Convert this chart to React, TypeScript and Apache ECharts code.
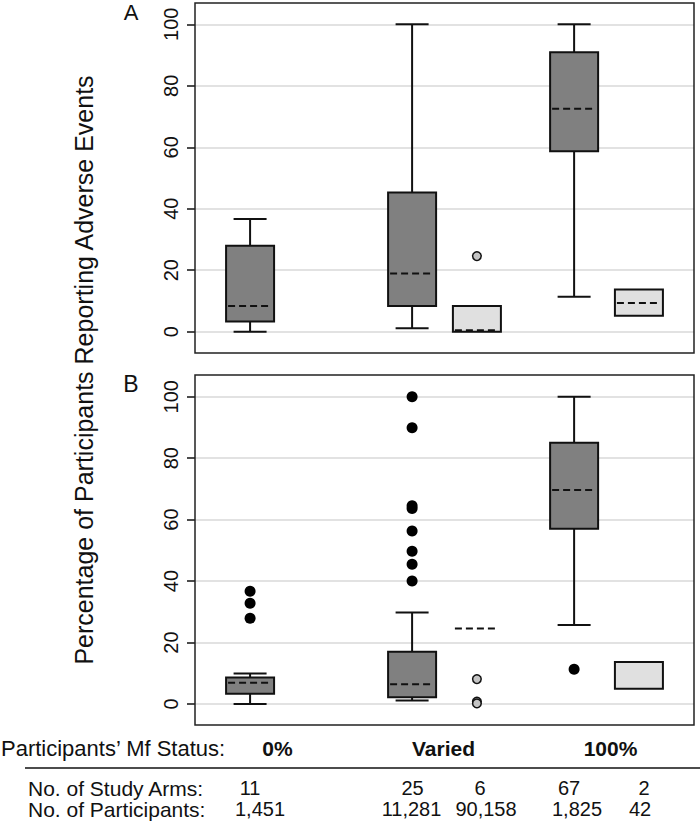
import React, { useEffect, useRef } from "react";
import * as echarts from "echarts";

// ---- data ----
const GROUPS = ["0%", "Varied", "100%"];
// [groupIndex, min, q1, median, q3, max]
const A_DARK = [
  [0, 0, 3.3, 8.4, 28.0, 36.7],
  [1, 1.1, 8.4, 18.9, 45.3, 100],
  [2, 11.4, 58.7, 72.5, 90.9, 100],
];
const A_LIGHT = [
  [1, 0, 0, 0.5, 8.4, 8.4],
  [2, 5.2, 5.2, 9.3, 13.7, 13.7],
];
const A_DARK_OUT: number[][] = [];
const A_LIGHT_OUT = [[1, 24.6]];
const B_DARK = [
  [0, 0, 3.3, 6.9, 8.6, 9.9],
  [1, 1.1, 2.2, 6.4, 17.0, 29.8],
  [2, 25.7, 57.0, 69.6, 85.0, 100],
];
const B_LIGHT = [
  [1, 24.6, 24.6, 24.6, 24.6, 24.6],
  [2, 5.0, 5.0, null, 13.7, 13.7],
];
const B_DARK_OUT = [
  [0, 36.7], [0, 32.8], [0, 27.9],
  [1, 100], [1, 89.9], [1, 64.5], [1, 63.6], [1, 56.3], [1, 49.7], [1, 45.5], [1, 40.0],
  [2, 11.3],
];
const B_LIGHT_OUT = [[1, 8.1], [1, 0.8], [1, 0.2]];
// table columns: 0% dark, Varied dark, Varied light, 100% dark, 100% light
const STUDY_ARMS = [11, 25, 6, 67, 2];
const PARTICIPANTS = [1451, 11281, 90158, 1825, 42];
const Y_MIN = 0;
const Y_MAX = 100;
const Y_STEP = 20;
const Y_TITLE = "Percentage of Participants Reporting Adverse Events";

// ---- layout / style ----
const FONT = "'Liberation Sans', Arial, Helvetica, sans-serif";
const DARK_FILL = "#808080";
const LIGHT_FILL = "#e0e0e0";
const OFF = 0.2;
const BOX_W = 48;
const CAP_W = 33;
const HEADER_X = [277.5, 443.5, 610.5];
const ROW1_X = [250, 412.5, 480, 569, 644];
const ROW2_X = [260, 411.5, 486, 577, 640];

const boxRender = (offset: number, fill: string) => (params: any, api: any) => {
  const g = api.value(0);
  const mn = api.value(1), q1 = api.value(2), med = api.value(3), q3 = api.value(4), mx = api.value(5);
  const x = g + offset;
  const cx = api.coord([x, 0])[0];
  const yOf = (v: number) => api.coord([x, v])[1];
  const ls = { stroke: "#111", lineWidth: 2 };
  const children: any[] = [];
  if (mx > q3) {
    children.push({ type: "line", shape: { x1: cx, y1: yOf(q3), x2: cx, y2: yOf(mx) }, style: ls });
    children.push({ type: "line", shape: { x1: cx - CAP_W / 2, y1: yOf(mx), x2: cx + CAP_W / 2, y2: yOf(mx) }, style: ls });
  }
  if (mn < q1) {
    children.push({ type: "line", shape: { x1: cx, y1: yOf(q1), x2: cx, y2: yOf(mn) }, style: ls });
    children.push({ type: "line", shape: { x1: cx - CAP_W / 2, y1: yOf(mn), x2: cx + CAP_W / 2, y2: yOf(mn) }, style: ls });
  }
  if (q3 - q1 > 0.01) {
    children.push({
      type: "rect",
      shape: { x: cx - BOX_W / 2, y: yOf(q3), width: BOX_W, height: yOf(q1) - yOf(q3) },
      style: { fill, stroke: "#111", lineWidth: 2 },
    });
  }
  if (isFinite(med)) {
    children.push({
      type: "line",
      shape: { x1: cx - BOX_W / 2 + 2, y1: yOf(med), x2: cx + BOX_W / 2 - 2, y2: yOf(med) },
      style: { stroke: "#111", lineWidth: 2, lineDash: [7, 4] },
    });
  }
  return { type: "group", children };
};

const pointRender = (offset: number, fill: string, r: number, stroke: string | null) => (params: any, api: any) => {
  const p = api.coord([api.value(0) + offset, api.value(1)]);
  return {
    type: "circle",
    shape: { cx: p[0], cy: p[1], r },
    style: stroke ? { fill, stroke, lineWidth: 1.5 } : { fill },
  };
};

export default function App() {
  const ref = useRef<HTMLDivElement>(null);
  useEffect(() => {
    const chart = echarts.init(ref.current!, null, { renderer: "svg" });
    const yAxisBase = {
      type: "value",
      min: Y_MIN,
      max: Y_MAX,
      interval: Y_STEP,
      axisLine: { show: false, onZero: false },
      axisTick: { show: true, inside: false, length: 8, lineStyle: { color: "#111", width: 1.5 } },
      axisLabel: { rotate: 90, fontSize: 20, color: "#111", fontFamily: FONT, margin: 14 },
      splitLine: { show: true, lineStyle: { color: "#d9d9d9", width: 1.5 } },
    };
    const xAxisBase = { type: "value", min: -0.54, max: 2.54, show: false, axisLine: { onZero: false } };
    const panels = [
      [A_DARK, A_LIGHT, A_DARK_OUT, A_LIGHT_OUT],
      [B_DARK, B_LIGHT, B_DARK_OUT, B_LIGHT_OUT],
    ];
    const series: any[] = [];
    panels.forEach((p, i) => {
      series.push({ type: "custom", name: "dark", xAxisIndex: i, yAxisIndex: i, data: p[0], renderItem: boxRender(-OFF, DARK_FILL), clip: false, z: 2 });
      series.push({ type: "custom", name: "light", xAxisIndex: i, yAxisIndex: i, data: p[1], renderItem: boxRender(OFF, LIGHT_FILL), clip: false, z: 2 });
      series.push({ type: "custom", name: "darkOut", xAxisIndex: i, yAxisIndex: i, data: p[2], renderItem: pointRender(-OFF, "#000", 5.5, null), clip: false, z: 3 });
      series.push({ type: "custom", name: "lightOut", xAxisIndex: i, yAxisIndex: i, data: p[3], renderItem: pointRender(OFF, "#c4c4c4", 4.3, "#111"), clip: false, z: 3 });
    });

    const txt = (text: string, x: number, y: number, opts: any = {}) => ({
      type: "text",
      x,
      y,
      style: {
        text,
        fontFamily: FONT,
        fontSize: 20,
        fill: "#111",
        align: "center",
        verticalAlign: "middle",
        ...opts,
      },
      z: 10,
    });
    const fmt = (n: number) => n.toLocaleString("en-US");
    const graphic: any[] = [
      { type: "rect", shape: { x: 195, y: 3, width: 499, height: 350 }, style: { fill: "none", stroke: "#222", lineWidth: 1.5 }, z: 5 },
      { type: "rect", shape: { x: 195, y: 375, width: 499, height: 350 }, style: { fill: "none", stroke: "#222", lineWidth: 1.5 }, z: 5 },
      txt("A", 131, 12.5, { fontSize: 22 }),
      txt("B", 131, 383.5, { fontSize: 23 }),
      { type: "text", x: 84, y: 370, rotation: Math.PI / 2, style: { text: Y_TITLE, fontFamily: FONT, fontSize: 25, fill: "#111", align: "center", verticalAlign: "middle" } },
      txt("Participants\u2019 Mf Status:", 1, 748, { fontSize: 22, align: "left" }),
      { type: "line", shape: { x1: 25, y1: 768, x2: 700, y2: 768 }, style: { stroke: "#111", lineWidth: 1.5 } },
      txt("No. of Study Arms:", 28, 788, { align: "left", fontSize: 21 }),
      txt("No. of Participants:", 28, 809, { align: "left", fontSize: 21 }),
    ];
    GROUPS.forEach((g, i) => {
      graphic.push(txt(g, HEADER_X[i], 748, { fontWeight: "bold", fontSize: 21 }));
    });
    STUDY_ARMS.forEach((n, i) => graphic.push(txt(fmt(n), ROW1_X[i], 788)));
    PARTICIPANTS.forEach((n, i) => graphic.push(txt(fmt(n), ROW2_X[i], 809)));

    chart.setOption({
      animation: false,
      backgroundColor: "#fff",
      grid: [
        { left: 195, right: 6, top: 24.3, height: 307.4 },
        { left: 195, right: 6, top: 396.7, height: 307.3 },
      ],
      xAxis: [{ ...xAxisBase, gridIndex: 0 }, { ...xAxisBase, gridIndex: 1 }],
      yAxis: [{ ...yAxisBase, gridIndex: 0 }, { ...yAxisBase, gridIndex: 1 }],
      series,
      graphic,
    });
    return () => chart.dispose();
  }, []);
  return <div ref={ref} style={{ position: "fixed", left: 0, top: 0, width: 700, height: 827 }} />;
}
